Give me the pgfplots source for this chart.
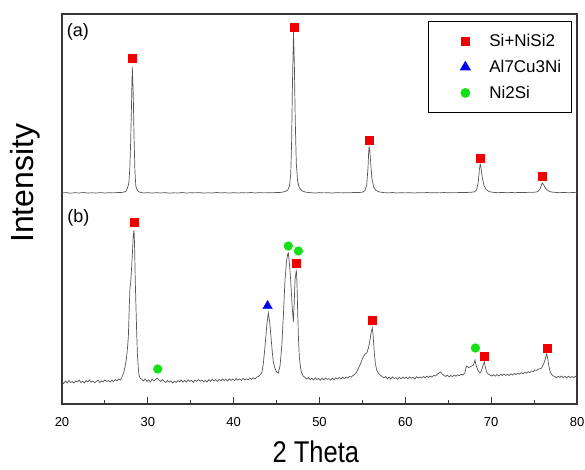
\documentclass[border=0pt]{standalone}
\usepackage{fontspec}
\setmainfont{Liberation Sans}
\usepackage{graphicx}
\usepackage{pgfplots}
\pgfplotsset{compat=1.18}
\pgfplotsset{markleg/.style={legend image code/.code={\path (0pt,0pt) (49.5pt,0pt); \draw[##1] plot coordinates {(28pt,0pt)};}}}

\definecolor{trace}{RGB}{85,85,85}
\definecolor{frame}{RGB}{55,55,55}
\definecolor{mred}{RGB}{240,0,0}
\definecolor{mblue}{RGB}{0,0,240}
\definecolor{mgreen}{RGB}{20,225,20}

\begin{document}
\begin{tikzpicture}
\begin{axis}[
    name=ax,
    scale only axis, width=515pt, height=390pt,
    xmin=20, xmax=80, ymin=0, ymax=390,
    xtick={20,30,...,80}, minor x tick num=1,
    xtick pos=left, ytick=\empty,
    major tick length=7pt, minor tick length=4pt,
    every tick/.style={frame, line width=1.1pt},
    axis line style={frame, line width=1.6pt},
    tick label style={font=\fontsize{13}{15}\selectfont},
    /pgf/number format/assume math mode=true,
    xticklabel style={inner xsep=0pt, yshift=-9.5pt},
    xlabel={\scalebox{0.85}[1]{2 Theta}},
    xlabel style={font=\fontsize{30}{34}\selectfont, inner sep=0pt, at={(rel axis cs:0.493,-0.150)}, anchor=base},
    ylabel={Intensity},
    ylabel style={font=\fontsize{32}{36}\selectfont, inner sep=0pt, at={(rel axis cs:-0.0557,0.566)}, anchor=base},
    legend style={at={(rel axis cs:0.9897,0.981)}, anchor=north east, draw=black, line width=1pt,
        font=\fontsize{17}{20}\selectfont, inner xsep=8pt, inner ysep=10.5pt, row sep=8pt},
    legend cell align=left,
    clip=false,
]
% markers (legend entries)
\addplot[only marks, markleg, mark=square*, mark size=4pt, color=mred]
    coordinates {(28.19,346) (47.03,377) (55.77,264) (68.70,246) (75.96,228)
                 (28.37,182) (47.34,141) (56.15,84) (69.20,48) (76.47,56)};
\addlegendentry{Si+NiSi2}
\addplot[only marks, markleg, mark=triangle*, mark size=5.5pt, color=mblue]
    coordinates {(43.95,98)};
\addlegendentry{Al7Cu3Ni}
\addplot[only marks, markleg, mark=*, mark size=4.4pt, color=mgreen]
    coordinates {(31.15,35) (46.37,158) (47.54,153) (68.16,56)};
\addlegendentry{Ni2Si}

% pattern (a)
\addplot[trace, line width=0.7pt, forget plot] coordinates {
(20.0,211.0) (20.5,211.4) (21.0,210.8) (21.5,211.3) (22.0,211.0) (22.5,211.5) (23.0,210.9)
(23.5,211.2) (24.0,211.0) (24.5,211.4) (25.0,211.0) (25.5,211.3) (26.0,211.1) (26.5,211.5)
(27.0,211.6) (27.25,212) (27.5,213) (27.7,218) (27.8,222) (27.9,235) (28.0,262) (28.1,300)
(28.19,337) (28.3,310) (28.4,265) (28.5,232) (28.6,218) (28.75,214) (29.0,212) (29.3,211.3)
(29.5,211.0) (30.0,211.4) (30.5,210.9) (31.0,211.3) (31.5,211.0) (32.0,211.4) (32.5,210.8)
(33.0,211.2) (33.5,211.0) (34.0,211.5) (34.5,210.9) (35.0,211.3) (35.5,211.1) (36.0,211.4)
(36.5,210.9) (37.0,211.2) (37.5,211.0) (38.0,211.5) (38.5,211.1) (39.0,211.3) (39.5,210.9)
(40.0,211.4) (40.5,211.0) (41.0,211.3) (41.5,211.1) (42.0,211.5) (42.5,211.0) (43.0,211.4)
(43.5,211.1) (44.0,211.3) (44.5,211.2) (45.0,211.5) (45.5,211.6) (46.0,212.5) (46.3,214)
(46.5,218) (46.65,230) (46.75,262) (46.85,320) (46.97,372) (47.07,340) (47.17,285) (47.3,240)
(47.45,223) (47.65,216) (48.0,213) (48.4,211.8) (49.0,211.3) (49.5,211.0) (50.0,211.4)
(50.5,211.1) (51.0,211.3) (51.5,210.9) (52.0,211.4) (52.5,211.1) (53.0,211.3) (53.5,211.2)
(54.0,211.5) (54.5,211.4) (55.0,211.8) (55.3,213.5) (55.5,219) (55.65,236) (55.72,250)
(55.78,257) (55.85,254) (55.95,243) (56.1,226) (56.3,217) (56.6,213.5) (57.0,212)
(57.5,211.4) (58.0,211.1) (58.5,211.5) (59.0,211.0) (59.5,211.3) (60.0,211.1) (60.5,211.4)
(61.0,211.0) (61.5,211.3) (62.0,211.1) (62.5,211.5) (63.0,211.2) (63.5,211.4) (64.0,211.1)
(64.5,211.5) (65.0,211.2) (65.5,211.4) (66.0,211.3) (66.5,211.6) (67.0,211.4) (67.5,211.7)
(68.0,212) (68.3,214) (68.5,222) (68.62,234) (68.72,240) (68.82,236) (68.95,227) (69.15,219)
(69.4,214.5) (69.8,212.3) (70.3,211.6) (70.8,211.3) (71.3,211.6) (71.8,211.2) (72.3,211.5)
(72.8,211.3) (73.3,211.6) (73.8,211.4) (74.3,211.7) (74.8,211.6) (75.2,211.9) (75.45,212.5)
(75.7,215) (75.85,219) (75.96,221) (76.1,219.5) (76.35,215.5) (76.7,213) (77.0,212)
(77.5,211.6) (78.0,211.3) (78.5,211.6) (79.0,211.2) (79.5,211.5) (80.0,211.3)
};

% pattern (b)
\addplot[trace, line width=0.7pt, forget plot] coordinates {
(20.0,22) (20.2,20.5) (20.4,23) (20.6,21) (20.8,23.5) (21.0,21.5) (21.2,22.5) (21.4,20.8)
(21.6,23.2) (21.8,22) (22.0,24) (22.2,21.5) (22.4,22.8) (22.6,21) (22.8,23.5) (23.0,22)
(23.2,24) (23.4,21.8) (23.6,23) (23.8,21.2) (24.0,22.6) (24.2,23.8) (24.4,21.5) (24.6,23.2)
(24.8,22) (25.0,24.2) (25.2,22.4) (25.4,23.5) (25.6,21.8) (25.8,24) (26.0,22.5) (26.2,24.4)
(26.4,23) (26.6,25) (26.8,24) (27.0,27) (27.2,32) (27.34,37) (27.5,45) (27.63,56) (27.73,67)
(27.85,100) (27.92,117) (28.0,121) (28.1,135) (28.2,150) (28.3,168) (28.39,174) (28.45,160)
(28.53,125) (28.62,97) (28.7,72) (28.78,51) (28.88,37) (28.97,29) (29.1,26) (29.3,24.5)
(29.5,23) (29.7,25) (29.9,22.5) (30.1,24.2) (30.3,22) (30.5,25) (30.7,23) (30.9,24.5)
(31.1,26) (31.3,24) (31.5,22.5) (31.7,24.6) (31.9,22.8) (32.1,21.5) (32.3,23.6) (32.5,21.9)
(32.7,23.2) (32.9,21) (33.1,22.8) (33.3,21.5) (33.5,23.4) (33.7,22.2) (33.9,24) (34.1,21.8)
(34.3,23.5) (34.5,22) (34.7,24.2) (34.9,22.5) (35.1,23.8) (35.3,21.6) (35.5,23.9) (35.7,22.6)
(35.9,24.5) (36.1,22.8) (36.3,24) (36.5,22.2) (36.7,23.6) (36.9,22) (37.1,24.3) (37.3,22.7)
(37.5,24.8) (37.7,23) (37.9,24.4) (38.1,22.6) (38.3,24.6) (38.5,23.2) (38.7,25) (38.9,23.4)
(39.1,24.8) (39.3,23) (39.5,25.2) (39.7,23.6) (39.9,24.9) (40.1,23.3) (40.3,25.4) (40.5,23.8)
(40.7,25) (40.9,23.5) (41.1,25.6) (41.3,24) (41.5,25.2) (41.7,24.2) (41.9,26) (42.1,24.5)
(42.3,26.3) (42.5,25) (42.7,27) (42.9,27.5) (43.1,29.5) (43.27,31) (43.45,40) (43.65,57)
(43.85,78) (44.04,91) (44.2,82) (44.35,67) (44.5,52) (44.62,42) (44.8,36) (45.0,32) (45.2,31)
(45.4,38) (45.6,57) (45.8,90) (45.98,124) (46.15,142) (46.3,150) (46.37,151) (46.5,140)
(46.64,124) (46.8,100) (46.95,82) (47.05,100) (47.15,124) (47.3,134) (47.38,120) (47.46,91)
(47.55,66) (47.65,47) (47.8,36) (47.92,31) (48.1,28) (48.3,26.5) (48.5,25) (48.7,26.5)
(48.9,24.3) (49.1,25.8) (49.3,24) (49.5,26.2) (49.7,24.5) (49.9,25.5) (50.1,23.8) (50.3,25.9)
(50.5,24.2) (50.7,26) (50.9,24.6) (51.1,25.3) (51.3,23.9) (51.5,25.8) (51.7,24.4) (51.9,26.2)
(52.1,24.8) (52.3,26.5) (52.5,25) (52.7,26.8) (52.9,25.4) (53.1,27) (53.3,25.8) (53.5,27.6)
(53.7,26.8) (53.9,28.5) (54.1,29.5) (54.33,32) (54.5,35) (54.72,39) (54.9,43) (55.1,47)
(55.3,50) (55.5,51) (55.7,56) (55.88,64) (56.0,71) (56.15,76) (56.25,68) (56.39,51) (56.5,41)
(56.66,34) (56.85,31) (57.05,29) (57.3,27.5) (57.5,26) (57.7,27.5) (57.9,25.2) (58.1,26.8)
(58.3,25) (58.5,27.2) (58.7,25.5) (58.9,26.4) (59.1,24.8) (59.3,26.6) (59.5,25.2) (59.7,27)
(59.9,25.6) (60.1,26.9) (60.3,25.3) (60.5,27.1) (60.7,25.8) (60.9,26.6) (61.1,25) (61.3,27.3)
(61.5,25.9) (61.7,27) (61.9,26) (62.1,27.6) (62.3,26.2) (62.5,27.8) (62.7,26.5) (62.9,28)
(63.1,27) (63.3,28.6) (63.5,28) (63.7,29.5) (63.9,31) (64.1,32) (64.3,30) (64.5,28.5)
(64.7,27.6) (64.9,28.8) (65.1,27.2) (65.3,28.5) (65.5,27.4) (65.7,29) (65.9,27.8) (66.1,29.2)
(66.3,28.3) (66.5,29.8) (66.7,29) (66.95,31) (67.05,36) (67.15,38) (67.35,36.5) (67.54,37)
(67.75,38) (67.92,39) (68.05,42) (68.12,44) (68.2,40) (68.31,37) (68.5,33) (68.7,31)
(68.85,33) (69.0,37) (69.1,40) (69.2,42) (69.32,37) (69.47,32) (69.65,30) (69.86,29)
(70.1,28) (70.3,29.2) (70.5,27.8) (70.7,29.5) (70.9,28) (71.1,29.8) (71.3,28.4) (71.5,30)
(71.7,28.6) (71.9,29.6) (72.1,28.5) (72.3,30.2) (72.5,29) (72.7,30.5) (72.9,29.4) (73.1,31)
(73.3,29.8) (73.5,31.4) (73.7,30.2) (73.9,31.6) (74.1,30.8) (74.3,32.2) (74.5,31.5) (74.7,33)
(74.9,32.4) (75.1,34) (75.3,33.6) (75.5,35) (75.7,35.2) (75.89,36) (76.05,39) (76.2,42)
(76.35,47) (76.47,50) (76.6,45) (76.7,39) (76.82,34) (76.94,31) (77.1,29) (77.24,28)
(77.4,27.5) (77.6,26.2) (77.8,27.8) (78.0,26.5) (78.2,28) (78.4,26.3) (78.6,27.6) (78.8,26)
(79.0,27.8) (79.2,26.4) (79.4,27.5) (79.6,26.2) (79.8,27.7) (80.0,26.8)
};

\node[font=\fontsize{18}{20}\selectfont] at (axis cs:21.86,372) {(a)};
\node[font=\fontsize{18}{20}\selectfont] at (axis cs:21.92,186.5) {(b)};
\end{axis}
\path ([shift={(-62pt,-66pt)}]ax.south west) rectangle ++(585pt,470pt);
\end{tikzpicture}
\end{document}
